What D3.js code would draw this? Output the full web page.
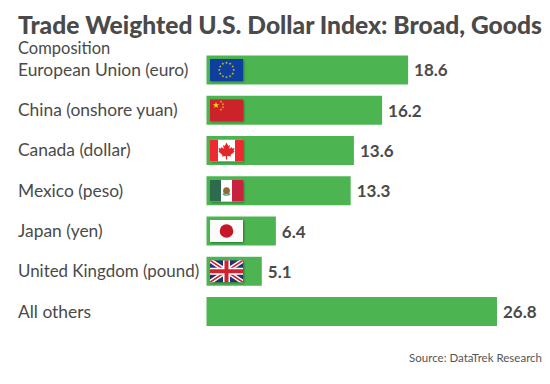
<!DOCTYPE html>
<html>
<head>
<meta charset="utf-8">
<script src="https://cdn.jsdelivr.net/npm/d3@7"></script>
<style>
html,body{margin:0;padding:0;background:#fff}
svg{display:block}
text{font-family:Lato,sans-serif}
</style>
</head>
<body>
<svg id="c" width="550" height="384"></svg>
<script>
const categories = ["European Union (euro)","China (onshore yuan)","Canada (dollar)","Mexico (peso)","Japan (yen)","United Kingdom (pound)","All others"];
const values = [18.6,16.2,13.6,13.3,6.4,5.1,26.8];
const flags = ["eu","cn","ca","mx","jp","uk",null];
const titleText = "Trade Weighted U.S. Dollar Index: Broad, Goods";
const subtitleText = "Composition";
const sourceText = "Source: DataTrek Research";

const svg = d3.select("#c");
const x = d3.scaleLinear().domain([0,26.8]).range([206.5,497]);
const y = d3.scaleBand().domain(categories).range([55.5,326]).paddingInner(0.28).paddingOuter(0);
const ink = "#4a4a4a";

svg.append("text").attr("x",18).attr("y",34).attr("font-size",24.6).attr("font-weight",900).attr("fill",ink).text(titleText);
svg.append("text").attr("x",18).attr("y",54).attr("font-size",16.5).attr("fill",ink).text(subtitleText);
svg.append("text").attr("x",542).attr("y",362).attr("text-anchor","end").attr("font-size",11.5).attr("fill","#555").text(sourceText);

const rows = svg.selectAll("g.row").data(categories).join("g").attr("class","row");
rows.append("text").attr("x",18).attr("y",d=>y(d)+y.bandwidth()/2+6).attr("font-size",d=>d.startsWith("United")?16.9:17.4).attr("fill",ink).text(d=>d);
rows.append("rect").attr("x",x(0)).attr("y",d=>y(d)).attr("height",y.bandwidth())
  .attr("width",(d,i)=>x(values[i])-x(0)).attr("fill","#4cb551");
rows.append("text").attr("x",(d,i)=>x(values[i])+6).attr("y",d=>y(d)+y.bandwidth()/2+6.5)
  .attr("font-size",17).attr("font-weight",700).attr("fill",ink).text((d,i)=>values[i]);

const defs = svg.append("defs");
const f = defs.append("filter").attr("id","sh").attr("x","-10%").attr("y","-10%").attr("width","125%").attr("height","130%");
f.append("feDropShadow").attr("dx",1).attr("dy",1).attr("stdDeviation",0.8).attr("flood-color","#1d5a22").attr("flood-opacity",0.7);

const W = 33, H = 22;
function star(g,cx,cy,r,fill,rot=0){
  const pts=[];
  for(let i=0;i<10;i++){const a=-Math.PI/2+rot+i*Math.PI/5,q=i%2?r*0.4:r;pts.push([cx+q*Math.cos(a),cy+q*Math.sin(a)]);}
  g.append("polygon").attr("points",pts.join(" ")).attr("fill",fill);
}
const draw = {
  eu(g){
    g.append("rect").attr("width",W).attr("height",H).attr("fill","#0d3f9e");
    d3.range(12).forEach(i=>{const a=i*Math.PI/6;star(g,W/2+7.2*Math.cos(a),H/2+7.2*Math.sin(a),1.5,"#e0b52a");});
  },
  cn(g){
    g.append("rect").attr("width",W).attr("height",H).attr("fill","#cc2229");
    star(g,6,6,3.4,"#f7d21c");
    [[11,2.5],[13,5],[13,8],[11,10.5]].forEach(p=>star(g,p[0],p[1],1.2,"#f7d21c"));
  },
  ca(g){
    g.append("rect").attr("width",W).attr("height",H).attr("fill","#fff");
    g.append("rect").attr("width",8).attr("height",H).attr("fill","#ee2a2f");
    g.append("rect").attr("x",W-8).attr("width",8).attr("height",H).attr("fill","#ee2a2f");
    g.append("path").attr("fill","#e3262c").attr("transform",`translate(${W/2},${H/2})`)
      .attr("d","M0,-8 L1.8,-4.6 L3.4,-5.4 L2.8,-1.4 L5,-3.4 L5.6,-2 L8,-2.4 L7.2,0.4 L8.2,1 L4,4.4 L4.6,6 L0.6,5.4 L0.6,9 L-0.6,9 L-0.6,5.4 L-4.6,6 L-4,4.4 L-8.2,1 L-7.2,0.4 L-8,-2.4 L-5.6,-2 L-5,-3.4 L-2.8,-1.4 L-3.4,-5.4 L-1.8,-4.6 Z");
  },
  mx(g){
    g.append("rect").attr("width",W).attr("height",H).attr("fill","#fff");
    g.append("rect").attr("width",11).attr("height",H).attr("fill","#2f6b4e");
    g.append("rect").attr("x",22).attr("width",11).attr("height",H).attr("fill","#c9213f");
    g.append("ellipse").attr("cx",W/2).attr("cy",H/2).attr("rx",3.4).attr("ry",3.6).attr("fill","#8a6b3c");
    g.append("path").attr("d","M12.8,14 Q16.5,17 20.2,14").attr("fill","none").attr("stroke","#4f8a5c").attr("stroke-width",1.2);
  },
  jp(g){
    g.append("rect").attr("width",W).attr("height",H).attr("fill","#fbfbfb");
    g.append("circle").attr("cx",W/2).attr("cy",H/2).attr("r",6.8).attr("fill","#c5182a");
  },
  uk(g){
    g.append("rect").attr("width",W).attr("height",H).attr("fill","#27306f");
    const ln=(x1,y1,x2,y2,c,w)=>g.append("line").attr("x1",x1).attr("y1",y1).attr("x2",x2).attr("y2",y2).attr("stroke",c).attr("stroke-width",w);
    ln(0,0,W,H,"#fff",4.5); ln(W,0,0,H,"#fff",4.5);
    ln(0,0,W,H,"#d2232f",1.5); ln(W,0,0,H,"#d2232f",1.5);
    ln(W/2,0,W/2,H,"#fff",7); ln(0,H/2,W,H/2,"#fff",7);
    ln(W/2,0,W/2,H,"#d2232f",4); ln(0,H/2,W,H/2,"#d2232f",4);
  }
};
categories.forEach((c,i)=>{
  if(!flags[i]) return;
  const cp="cp"+i;
  defs.append("clipPath").attr("id",cp).append("rect").attr("width",W).attr("height",H);
  const outer=svg.append("g").attr("transform",`translate(${x(0)+3.5},${y(c)+(y.bandwidth()-H)/2})`).attr("filter","url(#sh)");
  draw[flags[i]](outer.append("g").attr("clip-path",`url(#${cp})`));
});
</script>
</body>
</html>
